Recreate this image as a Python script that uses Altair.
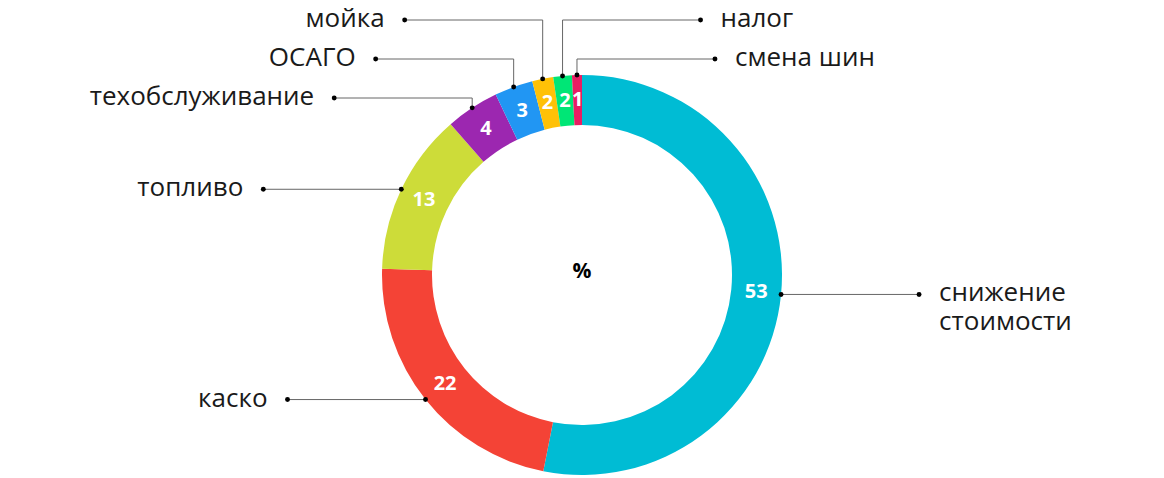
import math
import altair as alt
import pandas as pd

# ---- data ----
categories = ["снижение стоимости", "каско", "топливо", "техобслуживание",
              "ОСАГО", "мойка", "налог", "смена шин"]
shares = [53.1, 22.4, 13.1, 4.3, 3.1, 1.7, 1.5, 0.8]
shown = [53, 22, 13, 4, 3, 2, 2, 1]
label_text = ["снижение\nстоимости", "каско", "топливо", "техобслуживание",
              "ОСАГО", "мойка", "налог", "смена шин"]
colors = ["#00bcd4", "#f44336", "#cddc39", "#9c27b0",
          "#2196f3", "#ffc107", "#00e676", "#e91e63"]
center_text = "%"

# ---- layout ----
W, H = 1148, 470
CX, CY = 574, 267
R_OUT, R_IN, R_NUM = 200, 150, 175
LEAD, GAP = 138, 20
ROW0, ROW_STEP = 12, 39
side = {"снижение стоимости": 1, "каско": -1, "топливо": -1, "техобслуживание": -1,
        "ОСАГО": -1, "мойка": -1, "налог": 1, "смена шин": 1}
row = {"мойка": 0, "налог": 0, "ОСАГО": 1, "смена шин": 1, "техобслуживание": 2}
FONT = "Open Sans"

total = sum(shares)
recs, segs, dots = [], [], []
acc = 0.0
for i, (c, s, n, t) in enumerate(zip(categories, shares, shown, label_text)):
    mid = (acc + s / 2) / total * 2 * math.pi
    acc += s
    ax = CX + R_OUT * math.sin(mid)
    ay = CY - R_OUT * math.cos(mid)
    nx = CX + R_NUM * math.sin(mid)
    ny = CY - R_NUM * math.cos(mid)
    ly = ROW0 + ROW_STEP * row[c] if c in row else ay
    sd = side[c]
    ex = ax + sd * LEAD
    recs.append(dict(idx=i, cat=c, share=s, num=str(n), label=t,
                     nx=nx, ny=ny, tx=ex + sd * GAP, ty=ly, side=sd))
    if c in row:
        segs.append(dict(x=ax, y=ay, x2=ax, y2=ly))
    segs.append(dict(x=ax, y=ly, x2=ex, y2=ly))
    dots.append(dict(x=ax, y=ay))
    dots.append(dict(x=ex, y=ly))

df = pd.DataFrame(recs)
seg_df = pd.DataFrame(segs)
dot_df = pd.DataFrame(dots)

xs = alt.Scale(domain=[0, W], nice=False, zero=False)
ys = alt.Scale(domain=[H, 0], nice=False, zero=False)

arc = alt.Chart(df).mark_arc(radius=R_OUT, radius2=R_IN).encode(
    theta=alt.Theta("share:Q", stack=True),
    order=alt.Order("idx:Q"),
    color=alt.Color("cat:N", scale=alt.Scale(domain=categories, range=colors), legend=None),
    x=alt.value(CX), y=alt.value(CY),
)

rules = alt.Chart(seg_df).mark_rule(color="#666666", strokeWidth=1).encode(
    x=alt.X("x:Q", scale=xs, axis=None), y=alt.Y("y:Q", scale=ys, axis=None),
    x2="x2:Q", y2="y2:Q",
)

points = alt.Chart(dot_df).mark_circle(size=24, color="#000000", opacity=1).encode(
    x=alt.X("x:Q", scale=xs, axis=None), y=alt.Y("y:Q", scale=ys, axis=None),
)

nums = alt.Chart(df).mark_text(font=FONT, fontWeight="bold", fontSize=20, color="white",
                               align="center", baseline="middle").encode(
    x=alt.X("nx:Q", scale=xs, axis=None), y=alt.Y("ny:Q", scale=ys, axis=None),
    text="num:N",
)

def labels(sd, align):
    return alt.Chart(df).transform_filter(alt.datum.side == sd).mark_text(
        font=FONT, fontSize=26, color="#1a1a1a", align=align, baseline="alphabetic",
        dy=7, lineBreak="\n", lineHeight=29,
    ).encode(
        x=alt.X("tx:Q", scale=xs, axis=None), y=alt.Y("ty:Q", scale=ys, axis=None),
        text="label:N",
    )

center = alt.Chart(pd.DataFrame({"t": [center_text]})).mark_text(
    font=FONT, fontWeight="bold", fontSize=21, color="#000000", align="center", baseline="middle"
).encode(x=alt.value(CX), y=alt.value(CY - 3), text="t:N")

chart = alt.layer(arc, rules, points, nums, labels(-1, "right"), labels(1, "left"), center).properties(
    width=W, height=H, autosize=alt.AutoSizeParams(type="none"), padding=0,
).configure_view(stroke=None)

chart.save("out.html", embed_options={"renderer": "svg", "actions": False})
